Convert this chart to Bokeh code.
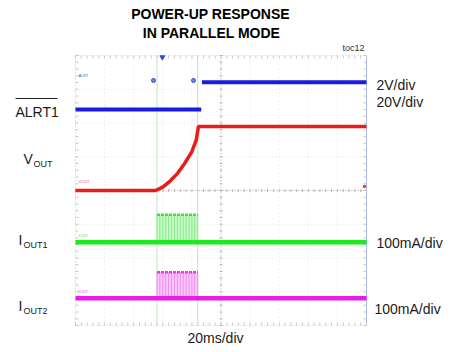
from bokeh.plotting import figure
from bokeh.models import Label, Range1d
from bokeh.embed import file_html
from bokeh.resources import INLINE

NAN = float("nan")

# ---- capture data (time in ms) ----
# ALRT1 is sampled, so the edge shows as a gap rather than a vertical stroke
alrt_t = [0, 86.4, NAN, 86.9, 200]
alrt_v = [0.0, 0.0, NAN, 1.62, 1.62]          # V, 2V/div

vout_t = [0, 55, 60, 65, 70, 75, 80, 83, 84.5, 200]
vout_v = [0, 0, 2, 5.6, 10, 16, 23, 30, 38, 38]   # V, 20V/div

iout1_t = [0, 56, 56, 84, 84, 200]
iout1_a = [0, 0, 81, 81, 0, 0]            # mA peak of switching bursts, 100mA/div
iout2_t = [0, 56, 56, 84, 84, 200]
iout2_a = [0, 0, 77, 77, 0, 0]

# individual switching edges inside the current bursts (ms)
burst_edges = [56, 58, 60, 62, 64, 66, 68, 70, 72, 74, 76, 78, 80, 82, 84]

cursor_t = [56, 84]

# channel settings: (per-div scale, offset in divisions)
ALRT_SCALE, ALRT_OFF = 2.0, 2.4
VOUT_SCALE, VOUT_OFF = 20.0, 0.0
I1_SCALE, I1_OFF = 100.0, -1.53
I2_SCALE, I2_OFF = 100.0, -3.19

# ---- screen geometry ----
W, H = 459, 352
X0, X1 = 75, 366        # left / right edges of the scope screen (px)
Y0, Y1 = 55, 325        # top / bottom edges (px from top)
T_SPAN = 200.0          # 10 div x 20 ms
px_ms = (X1 - X0) / T_SPAN
px_div = (Y1 - Y0) / 8.0
yc = (Y0 + Y1) / 2.0

p = figure(width=W, height=H, output_backend="svg", toolbar_location=None,
           x_axis_location=None, y_axis_location=None, min_border=0,
           x_range=Range1d(-X0 / px_ms, T_SPAN + (W - X1) / px_ms),
           y_range=Range1d(-(H - yc) / px_div, yc / px_div))
p.grid.visible = False
p.outline_line_color = None
p.background_fill_color = "white"
p.border_fill_color = "white"

def div(vals, scale, off):
    return [v / scale + off for v in vals]

# ---- graticule ----
grid_c = "#e0e0e0"
for k in range(11):
    t = k * 20
    if k in (0, 10, 5):
        continue
    p.segment(t, -4, t, 4, line_color=grid_c, line_width=1, line_dash="1 3")
for k in range(-3, 4):
    if k == 0:
        continue
    p.segment(0, k, 200, k, line_color=grid_c, line_width=1, line_dash="1 3")
# center cross
p.segment(100, -4, 100, 4, line_color="#a8a8a8", line_width=1, line_dash="1 2")
p.segment(0, 0, 200, 0, line_color="#a8a8a8", line_width=1, line_dash="1 2")
# border
p.segment(0, -4, 0, 4, line_color="#c8c8c8", line_width=1, line_dash="1 2")
p.segment(0, 4, 200, 4, line_color="#d0d0d0", line_width=1, line_dash="1 2")
p.segment(0, -4, 200, -4, line_color="#d0d0d0", line_width=1, line_dash="1 2")
p.segment(200, -4, 200, 4, line_color="#a8b8e8", line_width=1)

# minor ticks (5 per division)
tick_t = [i * 4 for i in range(51)]
tick_d = [-4 + i * 0.2 for i in range(41)]
tl = 3 / px_div
tw = 3 / px_ms
p.segment(tick_t, [4] * 51, tick_t, [4 - tl] * 51, line_color="#c8c8c8")
p.segment(tick_t, [-4] * 51, tick_t, [-4 + tl] * 51, line_color="#c8c8c8")
p.segment(tick_t, [-tl / 2] * 51, tick_t, [tl / 2] * 51, line_color="#b8b8b8")
p.segment([0] * 41, tick_d, [tw] * 41, tick_d, line_color="#c8c8c8")
p.segment([200 - tw] * 41, tick_d, [200] * 41, tick_d, line_color="#c8c8c8")
p.segment([100 - tw / 2] * 41, tick_d, [100 + tw / 2] * 41, tick_d, line_color="#b8b8b8")

# cursors
for t in cursor_t:
    p.segment(t, -4, t, 4, line_color="#bfe6bf", line_width=1)

# ---- current bursts ----
def burst(t_s, a_s, scale, off, fill, edge, top_c, line):
    y = div(a_s, scale, off)
    p.varea(x=t_s[1:5], y1=[off] * 4, y2=y[1:5], fill_color=fill, fill_alpha=1.0)
    top = max(y)
    p.segment(burst_edges, [off] * len(burst_edges), burst_edges,
              [top] * len(burst_edges), line_color=edge, line_width=1)
    p.line(t_s[2:4], y[2:4], line_color=top_c, line_width=2.5, line_dash="3 1")
    p.line([t_s[0], t_s[-1]], [off, off], line_color=line, line_width=4.5)

burst(iout1_t, iout1_a, I1_SCALE, I1_OFF, "#c8f9c8", "#86ec86", "#44dd44", "#1ee81e")
burst(iout2_t, iout2_a, I2_SCALE, I2_OFF, "#fbc8fb", "#ef8aef", "#e040e0", "#e61ee6")

# ---- voltage traces ----
p.line(vout_t, div(vout_v, VOUT_SCALE, VOUT_OFF), line_color="#e81c1c", line_width=3.5)
p.line(alrt_t, div(alrt_v, ALRT_SCALE, ALRT_OFF), line_color="#1a1ae0", line_width=4)

# cursor / trigger markers
p.scatter([53.6, 81.1], [3.26, 3.26], size=4, marker="circle",
          fill_color="#6a8ae8", line_color="#3050d0")
p.scatter([59.7], [3.95], size=5, marker="inverted_triangle",
          fill_color="#3050d0", line_color="#3050d0")
p.scatter([198.6], [0.12], size=2.5, marker="circle",
          fill_color="#d04040", line_color="#d04040")

# tiny on-screen channel tags
for txt, yy, col in [("ALRT", 3.4, "#5060e0"), ("VOUT", 0.27, "#e06060"),
                     ("IOUT", I1_OFF + 0.2, "#60e060"), ("IOUT", I2_OFF + 0.2, "#e060e0")]:
    p.text([2], [yy], text=[txt], text_font_size="4px", text_color=col,
           text_baseline="middle", text_align="left")

# ---- annotations (screen px, origin bottom-left) ----
FONT = "Liberation Sans"

def lab(x, y_top, s, size=14, align="left", style="normal", color="#1a1a1a"):
    p.add_layout(Label(x=x, y=H - y_top, x_units="screen", y_units="screen",
                       text=s, text_font=FONT, text_font_size=f"{size}px",
                       text_font_style=style, text_align=align,
                       text_baseline="middle", text_color=color))

lab(210, 13, "POWER-UP RESPONSE", 14, "center", "bold", "#000000")
lab(211, 32, "IN PARALLEL MODE", 14, "center", "bold", "#000000")
lab(364, 47, "toc12", 9, "right", color="#333333")

lab(15, 111, "ALRT1")
p.segment(-60 / px_ms, (yc - 98) / px_div, -18 / px_ms, (yc - 98) / px_div,
          line_color="#1a1a1a", line_width=1.2)
lab(23, 158, "V")
lab(33, 163, "OUT", 9)
lab(18, 239, "I")
lab(23, 244, "OUT1", 9)
lab(18, 305, "I")
lab(23, 310, "OUT2", 9)

lab(376, 84, "2V/div")
lab(376, 101, "20V/div")
lab(376, 242, "100mA/div")
lab(374, 308, "100mA/div")
lab(215, 337, "20ms/div", 14, "center")

open("out.html", "w").write(file_html(p, INLINE))
